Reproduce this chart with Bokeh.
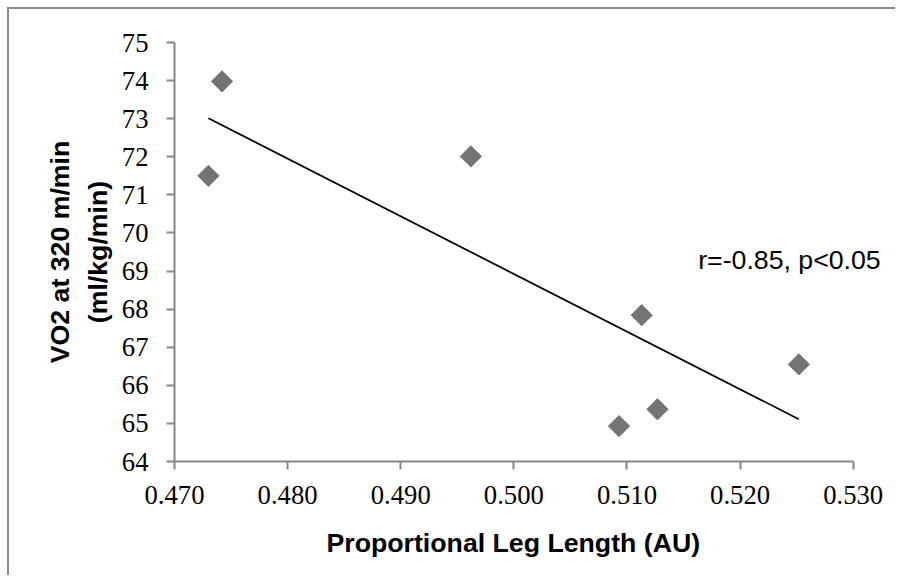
import numpy as np
from bokeh.plotting import figure
from bokeh.models import Range1d, FixedTicker, NumeralTickFormatter, Label, Title
from bokeh.embed import file_html
from bokeh.resources import INLINE

# ---- data ----
leg_length = [0.4730, 0.4742, 0.4962, 0.5093, 0.5113, 0.5127, 0.5252]
vo2 = [71.50, 73.98, 72.01, 64.93, 67.84, 65.37, 66.55]
x_ticks = [0.470, 0.480, 0.490, 0.500, 0.510, 0.520, 0.530]
y_ticks = [64, 65, 66, 67, 68, 69, 70, 71, 72, 73, 74, 75]
x_title = "Proportional Leg Length (AU)"
y_title = "VO2 at 320 m/min\n(ml/kg/min)"
annotation = "r=-0.85, p<0.05"

# linear trendline (least squares, as in the original spreadsheet chart)
slope, intercept = np.polyfit(leg_length, vo2, 1)
fit_x = [min(leg_length), max(leg_length)]
fit_y = [slope * xv + intercept for xv in fit_x]

# annotation anchor (data units)
ann_x, ann_y = 0.5163, 69.28

AXIS_GREY = "#868686"
FS = "26.7px"

p = figure(width=888, height=568,
           x_range=Range1d(0.47, 0.5333), y_range=Range1d(64, 75),
           output_backend="svg", toolbar_location=None,
           min_border_left=165, min_border_right=7,
           min_border_top=33, min_border_bottom=116)
p.styles = {"border-top": "2px solid #8c8c8c", "border-left": "2px solid #8c8c8c",
            "margin-left": "7px", "margin-top": "7px"}
p.grid.visible = False
p.outline_line_color = None
p.background_fill_color = "white"
p.border_fill_color = "white"

for ax in (p.xaxis[0], p.yaxis[0]):
    ax.axis_line_color = AXIS_GREY
    ax.axis_line_width = 2
    ax.major_tick_line_color = AXIS_GREY
    ax.major_tick_line_width = 2
    ax.major_tick_in = 0
    ax.major_tick_out = 8
    ax.minor_tick_line_color = None
    ax.major_label_text_font = "Liberation Serif"
    ax.major_label_text_font_size = FS
    ax.major_label_text_color = "black"
    ax.axis_label_text_font = "Liberation Sans"
    ax.axis_label_text_font_style = "bold"
    ax.axis_label_text_font_size = FS
    ax.axis_label_text_color = "black"

p.xaxis[0].ticker = FixedTicker(ticks=x_ticks)
p.xaxis[0].bounds = (0.47, 0.53)
p.xaxis[0].formatter = NumeralTickFormatter(format="0.000")
p.xaxis[0].major_label_standoff = 16

p.yaxis[0].ticker = FixedTicker(ticks=y_ticks)
p.yaxis[0].major_label_standoff = 18
p.yaxis[0].axis_label = y_title
p.yaxis[0].axis_label_standoff = 6
p.yaxis[0].axis_label_text_line_height = 1.27

p.add_layout(Title(text=x_title, align="left", offset=152, standoff=38,
                   text_font="Liberation Sans", text_font_style="bold",
                   text_font_size=FS, text_color="black"), "below")

p.line(fit_x, fit_y, line_color="black", line_width=1.75)
p.scatter(leg_length, vo2, marker="square", size=15, angle=np.pi / 4,
          fill_color="#747474", line_color="#747474")

p.add_layout(Label(x=ann_x, y=ann_y, text=annotation,
                   text_font="Liberation Sans", text_font_size=FS,
                   text_color="black", text_align="left",
                   text_baseline="alphabetic"))

open("out.html", "w").write(file_html(p, INLINE))
